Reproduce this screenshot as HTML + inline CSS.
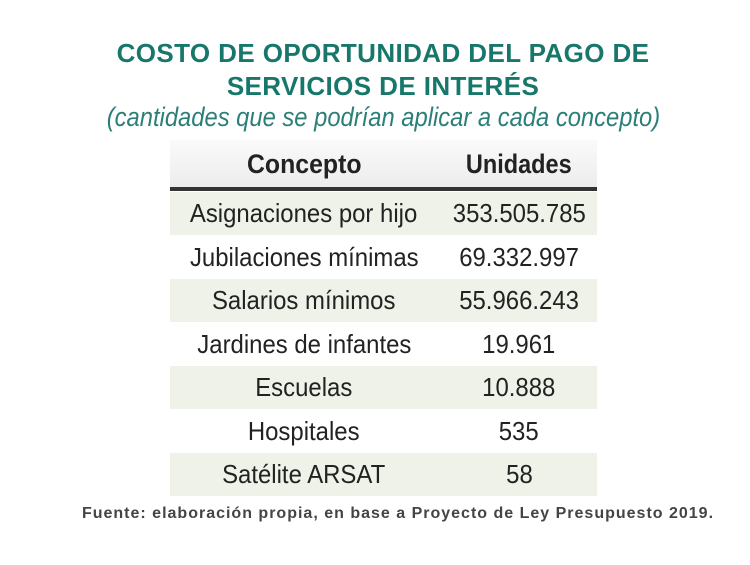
<!DOCTYPE html>
<html><head><meta charset="utf-8"><style>
body{margin:0;width:750px;height:565px;background:#fff;position:relative;overflow:hidden;font-family:"Liberation Sans",sans-serif}
.t{position:absolute;left:0;width:750px;text-align:center;white-space:nowrap}
.c{display:inline-block;transform:scaleX(0.92);transform-origin:center}
.title{color:#17776a;font-weight:bold;font-size:26px;letter-spacing:0.4px;left:8px}
.sub{color:#2b7f78;font-style:italic;font-size:27px;left:8px}
.row{position:absolute;left:170px;width:427px;height:43px}
.cell{position:absolute;top:0;height:43px;line-height:43px;text-align:center;font-size:26px;color:#222;white-space:nowrap}
.c1{left:0;width:268px}.c2{left:265px;width:168px}
.sh{background:#eef2e8}
</style></head><body>
<div class="t title" style="top:38px">COSTO DE OPORTUNIDAD DEL PAGO DE</div>
<div class="t title" style="top:71px">SERVICIOS DE INTERÉS</div>
<div class="t sub" style="top:102px"><span class="c" style="transform:scaleX(0.88)">(cantidades que se podrían aplicar a cada concepto)</span></div>
<div class="row" style="top:140px;height:48px;background:linear-gradient(#fafafa,#ececec)">
<div class="cell c1" style="font-weight:bold;font-size:27px;line-height:48px;height:48px"><span class="c">Concepto</span></div>
<div class="cell c2" style="font-weight:bold;font-size:27px;line-height:48px;height:48px"><span class="c" style="transform:scaleX(0.87)">Unidades</span></div></div>
<div style="position:absolute;left:170px;top:187px;width:427px;height:4px;background:#333"></div>
<div class="row sh" style="top:192px"><div class="cell c1"><span class="c">Asignaciones por hijo</span></div><div class="cell c2"><span class="c">353.505.785</span></div></div>
<div class="row" style="top:236px"><div class="cell c1"><span class="c">Jubilaciones mínimas</span></div><div class="cell c2"><span class="c">69.332.997</span></div></div>
<div class="row sh" style="top:279px"><div class="cell c1"><span class="c">Salarios mínimos</span></div><div class="cell c2"><span class="c">55.966.243</span></div></div>
<div class="row" style="top:323px"><div class="cell c1"><span class="c">Jardines de infantes</span></div><div class="cell c2"><span class="c">19.961</span></div></div>
<div class="row sh" style="top:366px"><div class="cell c1"><span class="c">Escuelas</span></div><div class="cell c2"><span class="c">10.888</span></div></div>
<div class="row" style="top:410px"><div class="cell c1"><span class="c">Hospitales</span></div><div class="cell c2"><span class="c">535</span></div></div>
<div class="row sh" style="top:453px"><div class="cell c1"><span class="c">Satélite ARSAT</span></div><div class="cell c2"><span class="c">58</span></div></div>
<div class="t" style="top:505px;left:23px;font-size:16px;letter-spacing:1px;font-weight:bold;color:#444">Fuente: elaboración propia, en base a Proyecto de Ley Presupuesto 2019.</div>
</body></html>
